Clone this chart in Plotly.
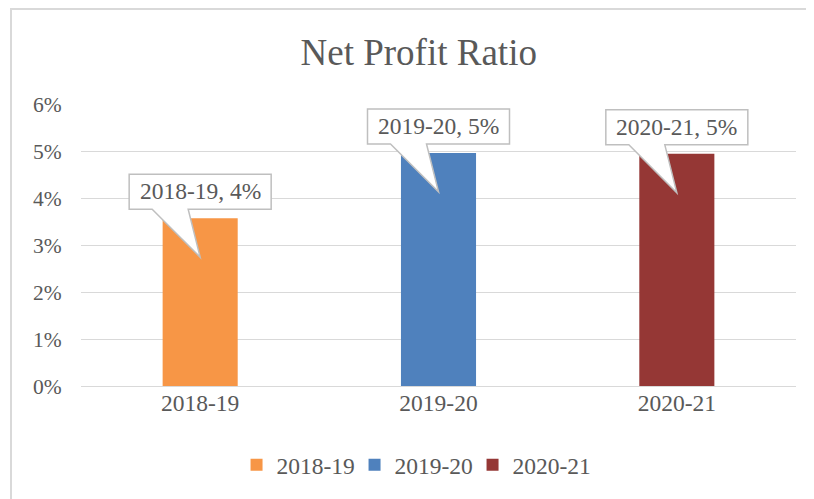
import plotly.graph_objects as go

categories = ["2018-19", "2019-20", "2020-21"]
values = [0.0357, 0.0496, 0.0494]
colors = ["#F79646", "#4F81BD", "#953735"]
y_ticks = [0, 0.01, 0.02, 0.03, 0.04, 0.05, 0.06]
y_tick_labels = ["0%", "1%", "2%", "3%", "4%", "5%", "6%"]

FONT = "Liberation Serif"
TXT = "#595959"

fig = go.Figure()
for i, (c, v, col) in enumerate(zip(categories, values, colors)):
    fig.add_trace(go.Bar(x=[i], y=[v], name=c, marker=dict(color=col, line=dict(width=0)),
                         width=0.315, hoverinfo="skip"))

shapes = []
annotations = []
# callout pixel geometry relative to bar top
callout = "M-71,44 L71,44 L71,9 L-12,9 L0,-39 L-48,9 L-71,9 Z"
for i, (c, v) in enumerate(zip(categories, values)):
    shapes.append(dict(type="path", xref="x", yref="y", xsizemode="pixel", ysizemode="pixel",
                       xanchor=i, yanchor=v, path=callout,
                       fillcolor="white", line=dict(color="#bfbfbf", width=1.5), layer="above"))
    annotations.append(dict(x=i, y=v, xref="x", yref="y", text=f"{c}, {round(v*100):.0f}%",
                            showarrow=False, yshift=27, font=dict(family=FONT, size=23.5, color=TXT)))

# chart area border
shapes.append(dict(type="rect", xref="paper", yref="paper", x0=-0.0979, y0=-0.6, x1=1.2, y1=1.337,
                   line=dict(color="#d9d9d9", width=2), fillcolor="rgba(0,0,0,0)", layer="below"))

fig.update_layout(
    width=806, height=491,
    margin=dict(l=73, r=18, t=96, b=113),
    paper_bgcolor="white", plot_bgcolor="white",
    barmode="overlay",
    font=dict(family=FONT, color=TXT, size=23.5),
    title=dict(text="Net Profit Ratio", x=0.5096, xref="container", xanchor="center",
               y=0.9104, yref="container", yanchor="middle",
               font=dict(family=FONT, size=37, color=TXT)),
    xaxis=dict(tickmode="array", tickvals=list(range(len(categories))), ticktext=categories,
               range=[-0.5, 2.5], showgrid=False, showline=False, zeroline=False,
               ticks="", tickfont=dict(family=FONT, size=23.5, color=TXT)),
    yaxis=dict(range=[0, 0.06], tickvals=y_ticks, ticktext=y_tick_labels,
               showgrid=True, gridcolor="#d9d9d9", gridwidth=1.3, zeroline=True,
               zerolinecolor="#d9d9d9", zerolinewidth=1.3, showline=False,
               ticks="outside", ticklen=14, tickcolor="rgba(0,0,0,0)",
               tickfont=dict(family=FONT, size=21.5, color=TXT)),
    legend=dict(orientation="h", x=0.4651, xanchor="center", y=-0.28, yanchor="middle",
                font=dict(family=FONT, size=23.5, color=TXT), itemclick=False,
                entrywidth=73, entrywidthmode="pixels"),
    shapes=shapes, annotations=annotations,
)

fig.write_html("out.html")
